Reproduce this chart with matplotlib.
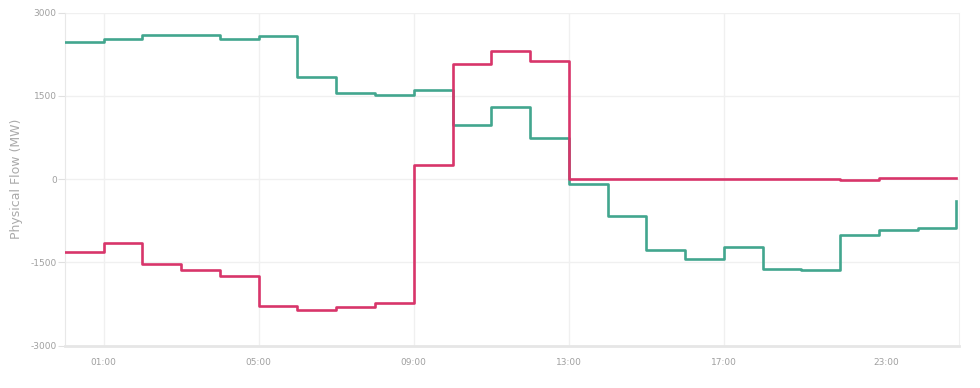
import matplotlib.pyplot as plt

hours = list(range(24))

green_flow = [2467, 2527, 2604, 2593, 2521, 2586, 1842, 1554, 1518, 1602,
              983, 1308, 738, -95, -661, -1273, -1435, -1219, -1628, -1640,
              -1015, -913, -883, -391]

red_flow = [-1315, -1153, -1531, -1639, -1741, -2287, -2354, -2300, -2240, 252,
            2071, 2310, 2125, 5, 3, 3, 3, 3, 3, 10,
            -8, 15, 15, 15]

y_ticks = [-3000, -1500, 0, 1500, 3000]
x_tick_pos = [1, 5, 9, 13, 17, 21.2]
x_tick_labels = ["01:00", "05:00", "09:00", "13:00", "17:00", "23:00"]
x_grid_pos = [1, 5, 9, 13, 17]


def main():
    fig = plt.figure(figsize=(9.8, 3.88), dpi=100)
    ax = fig.add_axes([0.0663, 0.1095, 0.9123, 0.8575])

    ax.step(hours, green_flow, where='post', color='#42a68e', linewidth=1.9, zorder=3)
    ax.step(hours, red_flow, where='post', color='#d8356a', linewidth=1.9, zorder=3)

    ax.set_xlim(0, 23.07)
    ax.set_ylim(-3000, 3000)

    for y in y_ticks[1:]:
        ax.axhline(y, color='#f0f0f0', linewidth=1.0, zorder=1)
    for x in x_grid_pos:
        ax.axvline(x, color='#f0f0f0', linewidth=1.0, zorder=1)

    ax.set_yticks(y_ticks)
    ax.set_yticklabels([str(v) for v in y_ticks])
    ax.set_xticks(x_tick_pos)
    ax.set_xticklabels(x_tick_labels)

    ax.tick_params(axis='y', colors='#e0e0e0', labelcolor='#a0a0a0', labelsize=6.5, length=5, width=0.8, pad=1)
    ax.tick_params(axis='x', colors='#e0e0e0', labelcolor='#a0a0a0', labelsize=6.5, length=0, pad=9)

    ax.spines['top'].set_visible(False)
    ax.spines['left'].set_color('#e8e8e8')
    ax.spines['right'].set_color('#f0f0f0')
    ax.spines['bottom'].set_color('#e6e6e6')
    ax.spines['bottom'].set_linewidth(2.0)

    ax.set_ylabel("Physical Flow (MW)", fontsize=9, color='#aaaaaa')
    ax.yaxis.set_label_coords(-0.047, 0.5)

    fig.savefig("out.png", dpi=100)


if __name__ == "__main__":
    main()
